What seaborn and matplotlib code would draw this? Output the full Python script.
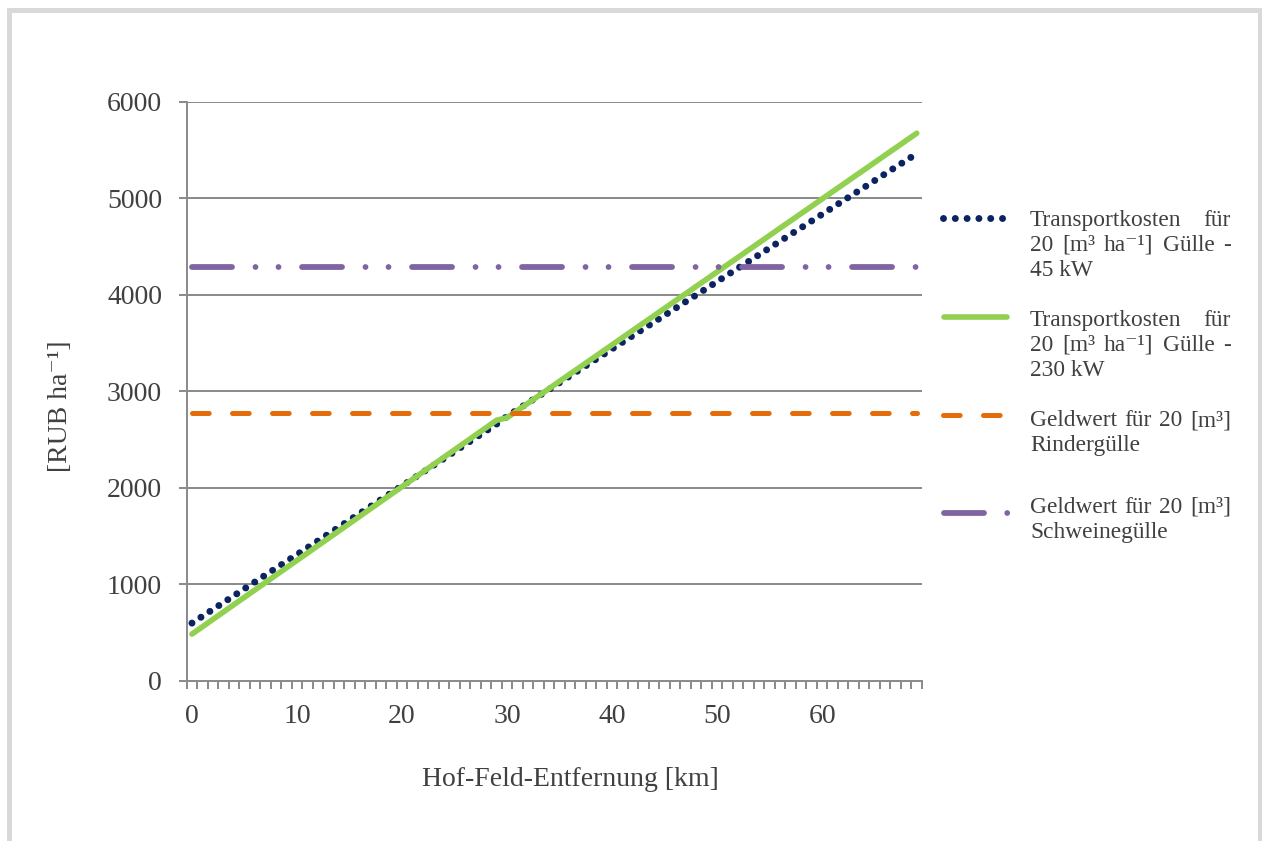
import numpy as np
import pandas as pd
import matplotlib
matplotlib.use("Agg")
import matplotlib.pyplot as plt
import seaborn as sns
from matplotlib.lines import Line2D
from matplotlib.patches import Rectangle

# ---------------- data ----------------
distance_km = list(range(70))
transport_45kw = [597, 668, 739, 810, 881, 953, 1024, 1095, 1166, 1237,
                  1308, 1379, 1450, 1521, 1592, 1664, 1735, 1806, 1877, 1948,
                  2019, 2090, 2161, 2232, 2303, 2375, 2446, 2517, 2588, 2659,
                  2740, 2810, 2880, 2949, 3019, 3089, 3159, 3229, 3298, 3368,
                  3438, 3508, 3578, 3647, 3717, 3787, 3857, 3927, 3996, 4066,
                  4136, 4206, 4276, 4345, 4415, 4485, 4555, 4625, 4694, 4764,
                  4834, 4904, 4974, 5043, 5113, 5183, 5253, 5323, 5392, 5462]
transport_230kw = [483, 559, 636, 712, 789, 865, 941, 1018, 1094, 1171,
                   1247, 1323, 1400, 1476, 1553, 1629, 1705, 1782, 1858, 1935,
                   2011, 2087, 2164, 2240, 2317, 2393, 2469, 2546, 2622, 2699,
                   2725, 2801, 2876, 2952, 3027, 3103, 3179, 3254, 3330, 3405,
                   3481, 3557, 3632, 3708, 3783, 3859, 3935, 4010, 4086, 4161,
                   4237, 4313, 4388, 4464, 4539, 4615, 4691, 4766, 4842, 4917,
                   4993, 5069, 5144, 5220, 5295, 5371, 5447, 5522, 5598, 5673]
geldwert_rinder = 2775
geldwert_schweine = 4290
x_tick_values = [0, 10, 20, 30, 40, 50, 60]
x_tick_labels = ["0", "10", "20", "30", "40", "50", "60"]
y_tick_values = [0, 1000, 2000, 3000, 4000, 5000, 6000]
y_tick_labels = ["0", "1000", "2000", "3000", "4000", "5000", "6000"]
legend_lines = [
    [["Transportkosten", "für"], ["20", "[m³", "ha⁻¹]", "Gülle", "-"], ["45 kW"]],
    [["Transportkosten", "für"], ["20", "[m³", "ha⁻¹]", "Gülle", "-"], ["230 kW"]],
    [["Geldwert", "für", "20", "[m³]"], ["Rindergülle"]],
    [["Geldwert", "für", "20", "[m³]"], ["Schweinegülle"]],
]

df = pd.DataFrame({
    "km": distance_km,
    "t45": transport_45kw,
    "t230": transport_230kw,
    "rind": [geldwert_rinder] * len(distance_km),
    "schwein": [geldwert_schweine] * len(distance_km),
})

# ---------------- style ----------------
sns.set_style("white")
plt.rcParams["font.family"] = ["Liberation Serif", "DejaVu Serif"]

W, H = 1262, 841
PX = 72 / 100.0  # points per pixel
C_NAVY = "#0b2361"
C_GREEN = "#92d050"
C_ORANGE = "#e46c0a"
C_PURPLE = "#8064a2"
C_GRID = "#8c8c8c"
C_TEXT = "#404040"

fig = plt.figure(figsize=(W / 100, H / 100), dpi=100)
fig.patch.set_facecolor("white")
ax = fig.add_axes([186.7 / W, (H - 680.7) / H, (922 - 186.7) / W, (680.7 - 101.7) / H])

lw = 5 * PX
lw_dot = 7.0 * PX
dot_style = (0, (0.001, 10.7 / 7.0))
dash_style = (0, (3.34, 4.66))
lw_dd = 5.8 * PX
dashdot_style = (0, (40 / 5.8, 23.5 / 5.8, 0.001, 23 / 5.8, 0.001, 23.5 / 5.8))

sns.lineplot(data=df, x="km", y="t45", ax=ax, color=C_NAVY, linewidth=lw_dot,
             linestyle=dot_style, dash_capstyle="round", errorbar=None, zorder=3)
sns.lineplot(data=df, x="km", y="t230", ax=ax, color=C_GREEN, linewidth=5.6 * PX,
             solid_capstyle="round", errorbar=None, zorder=4)
sns.lineplot(data=df, x="km", y="rind", ax=ax, color=C_ORANGE, linewidth=lw,
             linestyle=dash_style, dash_capstyle="round", errorbar=None, zorder=5)
sns.lineplot(data=df, x="km", y="schwein", ax=ax, color=C_PURPLE, linewidth=lw_dd,
             linestyle=dashdot_style, dash_capstyle="round", errorbar=None, zorder=6)

ax.set_xlim(-0.5, 69.5)
ax.set_ylim(0, 6000)
ax.set_yticks(y_tick_values)
ax.set_yticklabels(y_tick_labels)
ax.set_xticks(x_tick_values)
ax.set_xticklabels(x_tick_labels)
ax.set_xticks(np.arange(-0.5, 70, 1), minor=True)

ax.yaxis.grid(True, color=C_GRID, linewidth=2 * PX)
ax.xaxis.grid(False)
ax.set_axisbelow(True)
for side in ["top", "right"]:
    ax.spines[side].set_visible(False)
for side in ["left", "bottom"]:
    ax.spines[side].set_visible(True)
    ax.spines[side].set_color(C_GRID)
    ax.spines[side].set_linewidth(2 * PX)

ax.tick_params(axis="y", which="major", left=True, length=8 * PX, width=2 * PX,
               color=C_GRID, direction="out", pad=12, labelsize=20, labelcolor=C_TEXT)
ax.tick_params(axis="x", which="major", bottom=True, length=0, pad=17,
               labelsize=20, labelcolor=C_TEXT)
ax.tick_params(axis="x", which="minor", bottom=True, length=7.5 * PX, width=2 * PX,
               color=C_GRID, direction="out")

ax.set_xlabel("Hof-Feld-Entfernung [km]", fontsize=20, color=C_TEXT, va="center")
ax.xaxis.set_label_coords((570 - 186.7) / 735.3, (680.7 - 780) / 579.0)
ax.set_ylabel("[RUB ha⁻¹]", fontsize=20, color=C_TEXT, va="center")
ax.yaxis.set_label_coords((60 - 186.7) / 735.3, (680.7 - 406) / 579.0)

# ---------------- legend (drawn manually, justified text) ----------------
def fx(x):
    return x / W

def fy(y):
    return 1 - y / H

handles = [
    dict(x0=942.7, x1=1002.5, color=C_NAVY, ls=(0, (0.001, 11.8 / 7.0)), lw=lw_dot, y=218),
    dict(x0=943.5, x1=1007.0, color=C_GREEN, ls="-", lw=5.6 * PX, y=317),
    dict(x0=943.2, x1=1000.2, color=C_ORANGE, ls=dash_style, lw=lw, y=415),
    dict(x0=943.5, x1=1009.0, color=C_PURPLE, ls=(0, (40 / 5.8, 23.2 / 5.8, 0.001, 23 / 5.8)), lw=lw_dd, y=513),
]
for h in handles:
    fig.add_artist(Line2D([fx(h["x0"]), fx(h["x1"])], [fy(h["y"]), fy(h["y"])],
                          transform=fig.transFigure, color=h["color"], linestyle=h["ls"],
                          linewidth=h["lw"], dash_capstyle="round", solid_capstyle="round"))

line_ys = [[218, 243, 268], [318, 343, 368], [418, 443], [505, 530]]
TX0, TX1 = 1030, 1231
LFS = 16.8
renderer = fig.canvas.get_renderer()
for entry, ys in zip(legend_lines, line_ys):
    for li, (words, y) in enumerate(zip(entry, ys)):
        texts = [fig.text(fx(TX0), fy(y), w, fontsize=LFS, color=C_TEXT,
                          ha="left", va="center_baseline") for w in words]
        if len(words) > 1:
            widths = [t.get_window_extent(renderer).width for t in texts]
            gap = (TX1 - TX0 - sum(widths)) / (len(words) - 1)
            x = TX0
            for t, wdt in zip(texts, widths):
                t.set_x(fx(x))
                x += wdt + gap

# ---------------- outer frame ----------------
fig.add_artist(Rectangle((fx(9.2), -0.05), fx(1259.5 - 9.2), 1.05 - 9.7 / H,
                         transform=fig.transFigure, fill=False, edgecolor="#d9d9d9",
                         linewidth=5 * PX))

fig.savefig("out.png", dpi=100, facecolor="white")
